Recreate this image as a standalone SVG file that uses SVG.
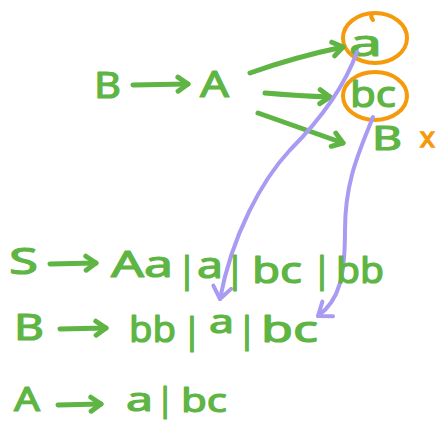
<svg xmlns="http://www.w3.org/2000/svg" width="441" height="421" viewBox="0 0 441 421">
<style>
.g{font-family:"Noto Sans","Liberation Sans",sans-serif;font-size:36px;fill:#5fb544;stroke:#5fb544;stroke-width:1.2px;stroke-linejoin:round}
.s{font-size:33px}
.o{font-family:"Noto Sans","Liberation Sans",sans-serif;font-size:28px;fill:#f59a0c;stroke:#f59a0c;stroke-width:1.4px}
.ga{fill:none;stroke:#5fb544;stroke-width:5;stroke-linecap:round;stroke-linejoin:round}
.pa{fill:none;stroke:#a99af3;stroke-width:4;stroke-linecap:round;stroke-linejoin:round}
.ring{fill:none;stroke:#f59a0c;stroke-width:4;stroke-linecap:round}
</style>
<defs>
<marker id="gh" markerUnits="userSpaceOnUse" orient="auto" markerWidth="30" markerHeight="30" refX="15" refY="15" viewBox="0 0 30 30">
<path d="M5,8 L15,15 L5,22" fill="none" stroke="#5fb544" stroke-width="5" stroke-linecap="round" stroke-linejoin="round"/>
</marker>
<marker id="ph" markerUnits="userSpaceOnUse" orient="auto" markerWidth="30" markerHeight="30" refX="15" refY="15" viewBox="0 0 30 30">
<path d="M3,6 L15,15 L3,24" fill="none" stroke="#a99af3" stroke-width="4" stroke-linecap="round" stroke-linejoin="round"/>
</marker>
</defs>
<g id="top-B"><text class="g" x="94" y="98" textLength="27" lengthAdjust="spacingAndGlyphs">B</text></g>
<g id="top-A"><text class="g" x="200" y="97" textLength="29" lengthAdjust="spacingAndGlyphs">A</text></g>
<g id="node-a"><ellipse class="ring" cx="375" cy="38" rx="32" ry="25"/><path class="ring" d="M372,14 Q370,17 373,20"/><text class="g" x="349" y="56" textLength="33" lengthAdjust="spacingAndGlyphs">a</text></g>
<g id="node-bc"><ellipse class="ring" cx="375" cy="96" rx="32" ry="24"/><text class="g" x="350" y="107" textLength="46" lengthAdjust="spacingAndGlyphs">bc</text></g>
<g id="node-B"><text class="g s" x="372" y="150" textLength="30" lengthAdjust="spacingAndGlyphs">B</text><text class="o" x="420" y="147">x</text></g>
<g id="connectors">
<path class="ga" d="M133,85 L188,84" marker-end="url(#gh)"/>
<path class="ga" d="M250,73 Q295,57 343,47" marker-end="url(#gh)"/>
<path class="ga" d="M265,93 Q300,96 330,97" marker-end="url(#gh)"/>
<path class="ga" d="M258,113 Q300,128 343,143" marker-end="url(#gh)"/>
<path class="pa" d="M357,52 C345,85 320,120 290,150 C262,180 232,235 220,299" marker-end="url(#ph)"/>
<path class="pa" d="M373,117 C360,150 345,180 345,230 C345,275 340,300 318,316" marker-end="url(#ph)"/>
<path class="ga" d="M50,264 L96,263" marker-end="url(#gh)"/>
<path class="ga" d="M60,329 L106,328" marker-end="url(#gh)"/>
<path class="ga" d="M58,405 L101,404" marker-end="url(#gh)"/>
</g>
<g id="rule-S">
<text class="g" x="9" y="274" textLength="29" lengthAdjust="spacingAndGlyphs">S</text>
<text class="g" x="111" y="277" textLength="62" lengthAdjust="spacingAndGlyphs">Aa</text>
<text class="g" x="177" y="282">|</text>
<text class="g" x="197" y="278" textLength="26" lengthAdjust="spacingAndGlyphs">a</text>
<text class="g" x="225" y="282">|</text>
<text class="g" x="252" y="283" textLength="50" lengthAdjust="spacingAndGlyphs">bc</text>
<text class="g" x="312" y="282">|</text>
<text class="g" x="336" y="283" textLength="48" lengthAdjust="spacingAndGlyphs">bb</text>
</g>
<g id="rule-B">
<text class="g" x="14" y="340" textLength="30" lengthAdjust="spacingAndGlyphs">B</text>
<text class="g" x="129" y="342" textLength="47" lengthAdjust="spacingAndGlyphs">bb</text>
<text class="g" x="182" y="343">|</text>
<text class="g s" x="209" y="333" textLength="25" lengthAdjust="spacingAndGlyphs">a</text>
<text class="g" x="237" y="342">|</text>
<text class="g" x="261" y="342" textLength="57" lengthAdjust="spacingAndGlyphs">bc</text>
</g>
<g id="rule-A">
<text class="g s" x="14" y="411" textLength="26" lengthAdjust="spacingAndGlyphs">A</text>
<text class="g s" x="126" y="411" textLength="27" lengthAdjust="spacingAndGlyphs">a</text>
<text class="g s" x="156" y="411">|</text>
<text class="g s" x="181" y="412" textLength="46" lengthAdjust="spacingAndGlyphs">bc</text>
</g>
</svg>
